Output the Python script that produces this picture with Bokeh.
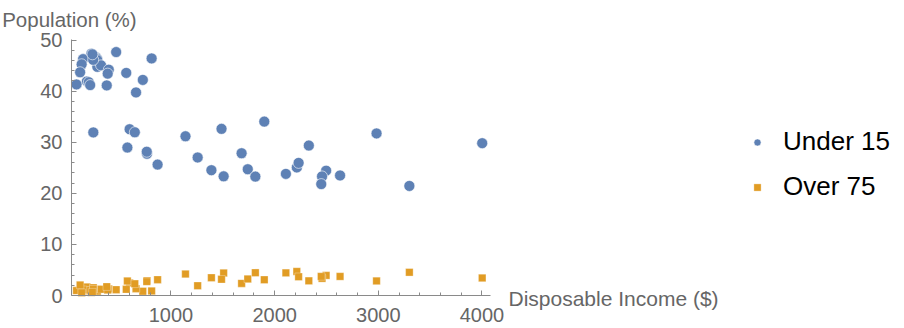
from bokeh.plotting import figure
from bokeh.models import (Range1d, FixedTicker, Label, Legend, LegendItem, LinearAxis)
from bokeh.embed import file_html
from bokeh.resources import INLINE

# Disposable income per capita ($)
dpi = [2329.68, 1507.99, 2108.47, 189.13, 728.47, 2982.88, 662.86, 289.52, 276.65, 471.24,
       2496.53, 287.77, 1681.25, 2213.82, 2457.12, 870.85, 289.71, 232.44, 1900.10, 88.94,
       1139.95, 1390.00, 1257.28, 207.68, 2449.39, 601.05, 2231.03, 1740.70, 1487.52, 325.54,
       568.56, 220.56, 400.06, 152.01, 579.51, 651.11, 250.96, 768.79, 3299.49, 2630.96,
       389.66, 249.87, 1813.93, 4001.89, 813.39, 138.33, 380.47, 766.54, 123.58, 242.69]
# Population under 15 (%)
under15 = [29.35, 23.32, 23.80, 41.89, 42.19, 31.72, 39.74, 44.75, 46.64, 47.64,
           24.42, 46.31, 27.84, 25.06, 23.31, 25.62, 46.05, 47.32, 34.03, 41.31,
           31.16, 24.52, 27.01, 41.74, 21.80, 32.54, 25.95, 24.71, 32.61, 45.04,
           43.56, 41.18, 44.19, 46.26, 28.96, 31.94, 31.92, 27.74, 21.44, 23.49,
           43.42, 46.12, 23.27, 29.81, 46.40, 45.25, 41.12, 28.13, 43.69, 47.20]
# Population over 75 (%)
over75 = [2.87, 4.41, 4.43, 1.67, 0.83, 2.85, 1.34, 0.67, 1.06, 1.14,
          3.93, 1.19, 2.37, 4.70, 3.35, 3.10, 0.87, 0.58, 3.08, 0.96,
          4.19, 3.48, 1.91, 0.91, 3.73, 2.47, 3.67, 3.25, 3.17, 1.21,
          1.20, 1.05, 1.28, 1.12, 2.85, 2.28, 1.52, 2.87, 4.54, 3.73,
          1.08, 1.21, 4.46, 3.43, 0.90, 0.56, 1.73, 2.72, 2.07, 0.66]

series_names = ["Under 15", "Over 75"]
x_ticks = [1000, 2000, 3000, 4000]
y_ticks = [0, 10, 20, 30, 40, 50]
x_title = "Disposable Income ($)"
y_title = "Population (%)"

BLUE = "#5E81B5"
ORANGE = "#E19C24"
AXIS = "#8a8a8a"
TXT = "#666666"
FONT = "Liberation Sans"

W, H = 904, 328
# plot box in pixels (axes region)
L, R, T, B = 71, 490, 39, 295
X0, X1 = 40.5, 4082.0     # data extent of x axis
Y0, Y1 = 0.0, 50.1        # data extent of y axis

sx = (R - L) / (X1 - X0)
sy = (B - T) / (Y1 - Y0)
xr = Range1d(X0 - L / sx, X0 + (W - L) / sx)
yr = Range1d(Y0 - (H - B) / sy, Y0 + B / sy)

p = figure(width=W, height=H, output_backend="svg", toolbar_location=None,
           x_range=xr, y_range=yr, x_axis_location=None, y_axis_location=None,
           min_border=0, min_border_left=0, min_border_right=0,
           min_border_top=0, min_border_bottom=0)
p.outline_line_color = None
p.grid.visible = False
p.background_fill_color = "white"
p.border_fill_color = "white"

xaxis = LinearAxis(fixed_location=Y0, bounds=(X0, X1))
yaxis = LinearAxis(fixed_location=X0, bounds=(Y0, Y1))
p.add_layout(xaxis, "below")
p.add_layout(yaxis, "left")

r1 = p.scatter(dpi, under15, marker="circle", size=11, fill_color=BLUE,
               line_color="white", line_width=1, line_alpha=0.6)
r2 = p.scatter(dpi, over75, marker="square", size=7.5, fill_color=ORANGE,
               line_color="white", line_width=0.6, line_alpha=0.5)

minor_x = [v for v in range(200, 4001, 200) if v not in x_ticks]
minor_y = [v for v in range(0, 51, 2) if v not in y_ticks]
xaxis.ticker = FixedTicker(ticks=x_ticks, minor_ticks=minor_x)
yaxis.ticker = FixedTicker(ticks=y_ticks, minor_ticks=minor_y)

for ax in (xaxis, yaxis):
    ax.axis_line_color = AXIS
    ax.major_tick_line_color = AXIS
    ax.minor_tick_line_color = AXIS
    ax.major_tick_in = 5
    ax.major_tick_out = 0
    ax.minor_tick_in = 3
    ax.minor_tick_out = 0
    ax.major_label_text_font = FONT
    ax.major_label_text_font_size = "20px"
    ax.major_label_text_color = TXT
yaxis.major_label_standoff = 9
xaxis.major_label_standoff = 12

p.add_layout(Label(x=1.7, y=H - 19, x_units="screen", y_units="screen",
                   text=y_title, text_font=FONT, text_font_size="20.5px",
                   text_color=TXT, text_baseline="alphabetic"))
p.add_layout(Label(x=508, y=H - 298, x_units="screen", y_units="screen",
                   text=x_title, text_font=FONT, text_font_size="21px",
                   text_color=TXT, text_baseline="alphabetic"))

legend_h = 2 * 30 + 14
legend = Legend(items=[LegendItem(label=series_names[0], renderers=[r1]),
                       LegendItem(label=series_names[1], renderers=[r2])],
                location=(748, H - 128 - legend_h), padding=0, margin=0,
                glyph_width=18, glyph_height=30, label_standoff=17, spacing=14,
                label_text_font=FONT, label_text_font_size="26px",
                label_text_color="black", border_line_alpha=0,
                background_fill_alpha=0)
p.add_layout(legend, "center")

open("out.html", "w").write(file_html(p, INLINE))
